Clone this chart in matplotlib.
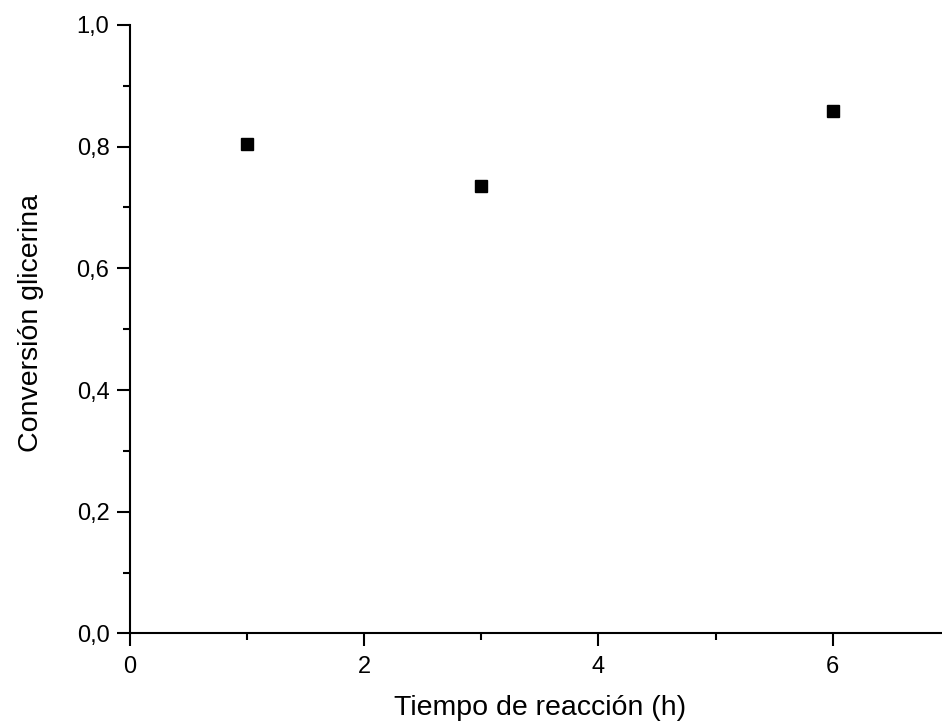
import numpy as np
import matplotlib.pyplot as plt
from matplotlib.ticker import MultipleLocator, FuncFormatter

plt.rcParams['font.family'] = ['Liberation Sans', 'DejaVu Sans']

# reaction time (h) and glycerol conversion
tiempo = [1, 3, 6]
conversion = [0.804, 0.735, 0.859]

fig = plt.figure(figsize=(9.42, 7.22), dpi=100)
ax = fig.add_axes([0.1375, 0.1226, 0.871, 0.843])

ax.plot(tiempo, conversion, linestyle='none', marker='s', markersize=9,
        color='black')

ax.set_xlim(0, 7)
ax.set_ylim(0, 1.0)

ax.xaxis.set_major_locator(MultipleLocator(2))
ax.xaxis.set_minor_locator(MultipleLocator(1))
ax.yaxis.set_major_locator(MultipleLocator(0.2))
ax.yaxis.set_minor_locator(MultipleLocator(0.1))

# comma decimal separator
ax.yaxis.set_major_formatter(FuncFormatter(lambda v, p: f"{v:.1f}".replace('.', ',')))
ax.xaxis.set_major_formatter(FuncFormatter(lambda v, p: f"{v:.0f}"))

for side in ['top', 'right']:
    ax.spines[side].set_visible(False)
for side in ['left', 'bottom']:
    ax.spines[side].set_linewidth(1.5)

ax.tick_params(which='major', direction='out', length=9.5, width=1.5,
               labelsize=17, pad=5)
ax.tick_params(axis='x', which='major', pad=7)
ax.tick_params(which='minor', direction='out', length=5, width=1.5)

ax.set_xlabel('Tiempo de reacción (h)', fontsize=20.5, va='baseline')
ax.set_ylabel('Conversión glicerina', fontsize=20.5, va='baseline')
ax.xaxis.set_label_coords(0.5, -0.134)
ax.yaxis.set_label_coords(-0.112, 0.51)

fig.savefig('out.png', dpi=100)
